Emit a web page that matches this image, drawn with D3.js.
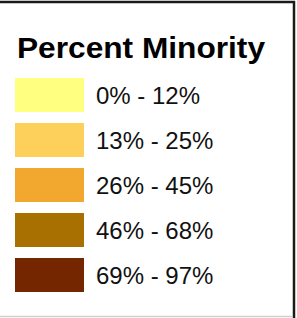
<!DOCTYPE html>
<html>
  <head>
    <meta charset="UTF-8">
    <script src="https://d3js.org/d3.v7.min.js"></script>
    <style>
      body { margin: 0; background: #fff; }
      svg { display: block; }
    </style>
    <title>Percent Minority</title>
  </head>
  <body>
    <svg id="svg" width="297" height="318"></svg>
    <script>
      // legend data
      const title = "Percent Minority";
      const classes = ["0% - 12%", "13% - 25%", "26% - 45%", "46% - 68%", "69% - 97%"];
      const colors = ["#ffff80", "#fcd05a", "#f2a82e", "#a87000", "#732600"];

      const svg = d3.select("svg#svg");
      const width = +svg.attr("width");
      const height = +svg.attr("height");

      // frame: dark top and right edges, light bottom edge
      svg.append("rect").attr("x", 0).attr("y", 0).attr("width", width).attr("height", height).attr("fill", "#fff");
      svg.append("line").attr("x1", 0).attr("x2", 295).attr("y1", 2).attr("y2", 2)
        .attr("stroke", "#1a1a1a").attr("stroke-width", 2.5);
      svg.append("line").attr("x1", 294).attr("x2", 294).attr("y1", 1).attr("y2", 318)
        .attr("stroke", "#1a1a1a").attr("stroke-width", 2.5);
      svg.append("line").attr("x1", 0).attr("x2", 293).attr("y1", 316.5).attr("y2", 316.5)
        .attr("stroke", "#cfcfcf").attr("stroke-width", 1.5);

      svg.append("text")
        .attr("x", 17)
        .attr("y", 58)
        .attr("font-family", "Liberation Sans, Arial, Helvetica, sans-serif")
        .attr("font-weight", "bold")
        .attr("textLength", 248)
        .attr("lengthAdjust", "spacingAndGlyphs")
        .style("font-size", "29px")
        .attr("fill", "#000")
        .text(title);

      // one row per class, placed with a band scale
      const rowScale = d3.scaleBand()
        .domain(classes)
        .range([78, 292])
        .paddingInner(11 / 45)
        .paddingOuter(0)
        .align(0);

      const rows = svg.append("g").selectAll("g")
        .data(classes)
        .enter()
        .append("g")
        .attr("transform", d => "translate(0," + rowScale(d) + ")");

      rows.append("rect")
        .attr("x", 15)
        .attr("y", 0)
        .attr("width", 69)
        .attr("height", rowScale.bandwidth())
        .attr("fill", (d, i) => colors[i]);

      rows.append("text")
        .attr("x", 96)
        .attr("y", rowScale.bandwidth() / 2 + 9)
        .attr("font-family", "Liberation Sans, Arial, Helvetica, sans-serif")
        .style("font-size", "24px")
        .attr("fill", "#111")
        .text(d => d);
    </script>
  </body>
</html>
